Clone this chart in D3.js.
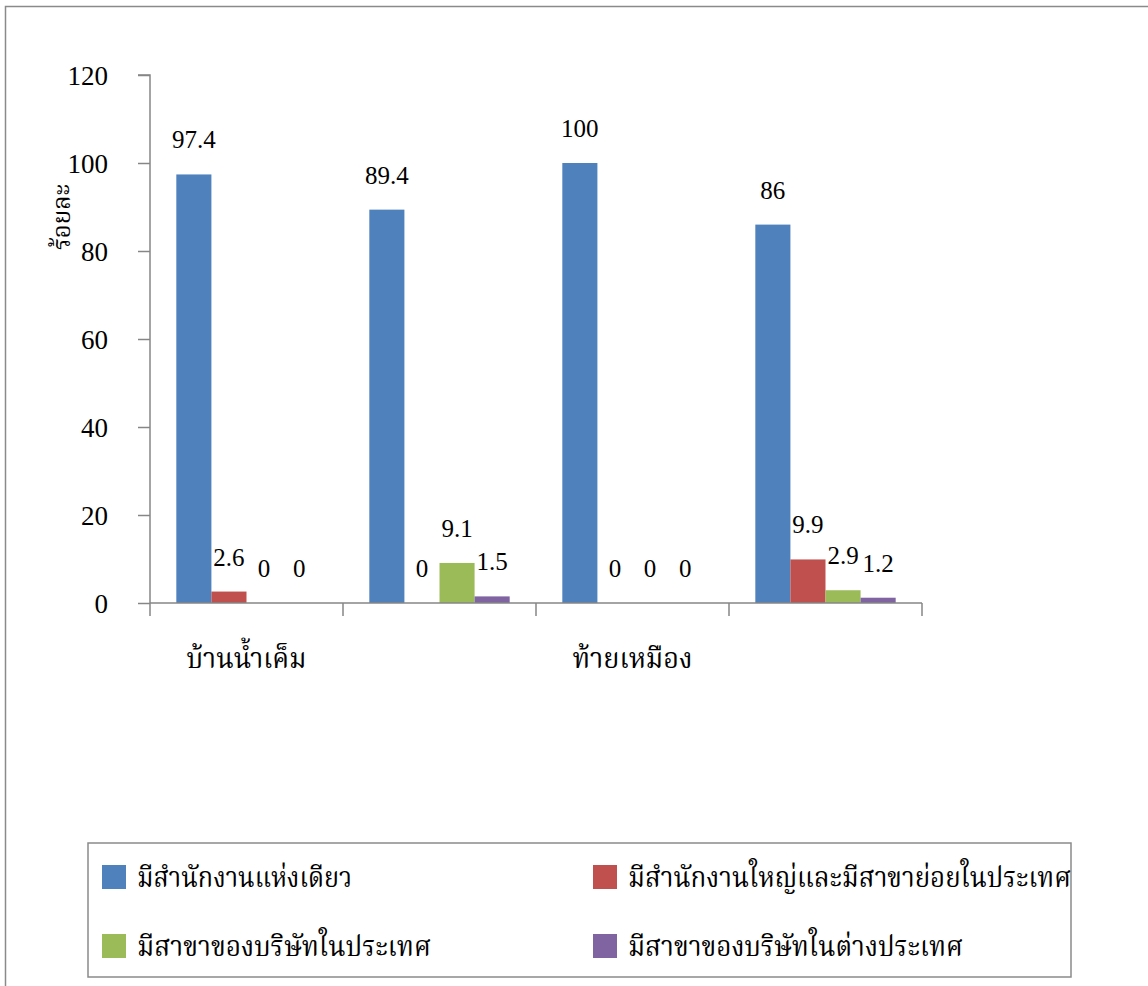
<!DOCTYPE html>
<html>
<head>
<meta charset="utf-8">
<script src="https://cdn.jsdelivr.net/npm/d3@7"></script>
<style>
  html, body { margin: 0; padding: 0; background: #fff; }
  svg { display: block; }
  .num { font-family: "Liberation Serif", "Times New Roman", Times, serif; }
  .thai { font-family: "Liberation Serif", "Noto Serif Thai", "Noto Sans Thai", serif; }
</style>
</head>
<body>
<svg id="chart" width="1148" height="986"></svg>
<script>
const categories = ["บ้านน้ำเค็ม", "", "ท้ายเหมือง", ""];
const seriesNames = [
  "มีสำนักงานแห่งเดียว",
  "มีสำนักงานใหญ่และมีสาขาย่อยในประเทศ",
  "มีสาขาของบริษัทในประเทศ",
  "มีสาขาของบริษัทในต่างประเทศ"
];
const seriesColors = ["#4F81BD", "#C0504D", "#9BBB59", "#8064A2"];
const singleOffice = [97.4, 89.4, 100, 86];
const hqAndDomesticBranches = [2.6, 0, 0, 9.9];
const domesticBranches = [0, 9.1, 0, 2.9];
const foreignBranches = [0, 1.5, 0, 1.2];
const yTicks = [0, 20, 40, 60, 80, 100, 120];
const yTitle = "ร้อยละ";

const series = [singleOffice, hqAndDomesticBranches, domesticBranches, foreignBranches];

const svg = d3.select("#chart");
const W = 1148, H = 986;

// outer frame
svg.append("rect").attr("x", 5.5).attr("y", 6.5).attr("width", W + 10).attr("height", H + 10)
  .attr("fill", "none").attr("stroke", "#8a8a8a").attr("stroke-width", 1.5);

const plot = { left: 150, right: 922, top: 75, bottom: 603 };

const x0 = d3.scaleBand().domain(d3.range(categories.length)).range([plot.left, plot.right]).padding(0);
const x1 = d3.scaleBand().domain(d3.range(series.length)).range([0, x0.bandwidth()]).paddingOuter(0.75).paddingInner(0);
const y = d3.scaleLinear().domain([0, 120]).range([plot.bottom, plot.top]);

// bars
const g = svg.append("g");
series.forEach((vals, si) => {
  g.selectAll(null).data(vals).enter().append("rect")
    .attr("x", (d, i) => x0(i) + x1(si))
    .attr("y", d => y(d))
    .attr("width", x1.bandwidth())
    .attr("height", d => y(0) - y(d))
    .attr("fill", seriesColors[si]);
  g.selectAll(null).data(vals).enter().append("text")
    .attr("class", "num")
    .attr("x", (d, i) => x0(i) + x1(si) + x1.bandwidth() / 2)
    .attr("y", d => y(d) - 26)
    .attr("text-anchor", "middle")
    .attr("font-size", 25)
    .attr("fill", "#000")
    .text(d => d);
});

// y axis
const yAxis = d3.axisLeft(y).tickValues(yTicks).tickSize(12).tickPadding(30);
const ya = svg.append("g").attr("transform", `translate(${plot.left},0)`).call(yAxis);
ya.attr("font-family", null).attr("font-size", null);
ya.select(".domain").attr("stroke", "#868686").attr("stroke-width", 1.5).attr("d", `M-12,${plot.top}H0V${plot.bottom}`);
ya.selectAll(".tick line").attr("stroke", "#868686").attr("stroke-width", 1.5);
ya.selectAll(".tick text").attr("class", "num").attr("font-size", 27).attr("fill", "#000")
  .attr("x", -42).attr("dy", "0.35em");

// x axis
const xa = svg.append("g").attr("transform", `translate(0,${plot.bottom})`);
xa.append("line").attr("x1", plot.left).attr("x2", plot.right).attr("y1", 0).attr("y2", 0)
  .attr("stroke", "#868686").attr("stroke-width", 1.5);
const xTickPos = d3.range(categories.length + 1).map(i => i < categories.length ? x0(i) : x0.range()[1]);
xa.selectAll(null).data(xTickPos).enter().append("line")
  .attr("x1", d => d).attr("x2", d => d).attr("y1", 0).attr("y2", 13)
  .attr("stroke", "#868686").attr("stroke-width", 1.5);
xa.selectAll(null).data(categories).enter().append("text")
  .attr("class", "thai")
  .attr("x", (d, i) => x0(i) + x0.bandwidth() / 2)
  .attr("y", 65)
  .attr("text-anchor", "middle")
  .attr("font-size", 29)
  .attr("fill", "#000")
  .attr("textLength", d => d ? 120 : null)
  .attr("lengthAdjust", "spacingAndGlyphs")
  .text(d => d);

// y title
svg.append("text")
  .attr("class", "thai")
  .attr("transform", "translate(70,217) rotate(-90)")
  .attr("text-anchor", "middle")
  .attr("font-size", 24)
  .attr("fill", "#000")
  .text(yTitle);

// legend
const lg = svg.append("g");
lg.append("rect").attr("x", 88).attr("y", 843).attr("width", 983).attr("height", 134)
  .attr("fill", "#fff").attr("stroke", "#8a8a8a").attr("stroke-width", 1.5);
const legendPos = [[102, 865], [593, 865], [102, 934], [593, 934]];
const legendTextLen = [215, 443, 294, 335];
seriesNames.forEach((name, i) => {
  const [lx, ly] = legendPos[i];
  lg.append("rect").attr("x", lx).attr("y", ly).attr("width", 24).attr("height", 24).attr("fill", seriesColors[i]);
  lg.append("text").attr("class", "thai").attr("x", lx + 35).attr("y", ly + 22)
    .attr("font-size", 28).attr("fill", "#000")
    .attr("textLength", legendTextLen[i]).attr("lengthAdjust", "spacingAndGlyphs")
    .text(name);
});
</script>
</body>
</html>
